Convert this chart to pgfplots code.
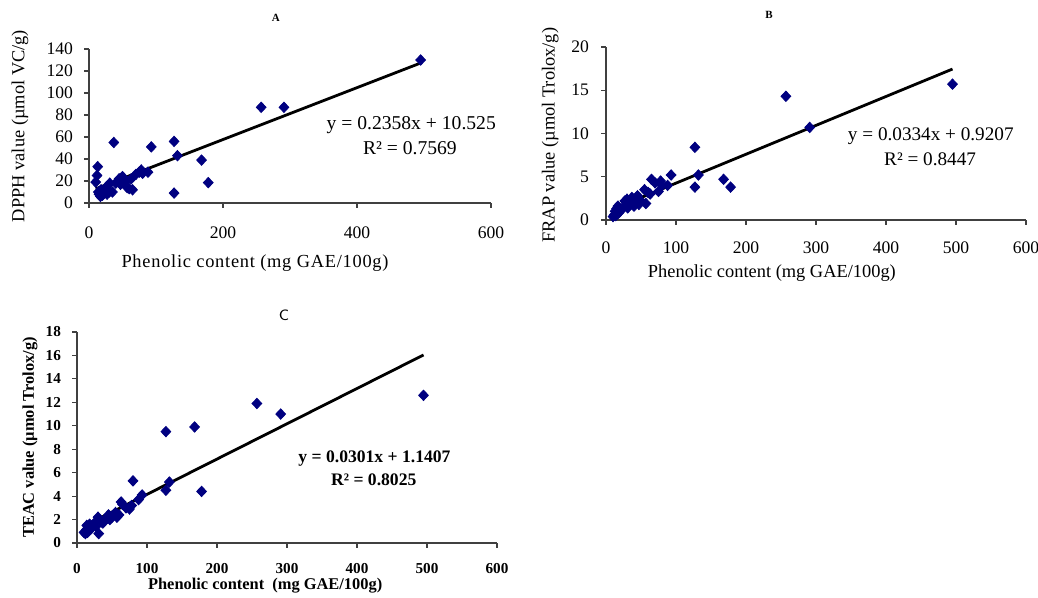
\documentclass[border=0pt]{standalone}
\usepackage{fontspec}
\setmainfont{Liberation Serif}
\usepackage{pgfplots}
\pgfplotsset{compat=1.18}
\definecolor{navy}{RGB}{0,0,128}

\pgfplotsset{
  panel/.style={
    scale only axis,
    anchor=south west,
    axis lines=left,
    axis line style={-,draw=black!75,line width=0.6pt},
    tick style={draw=black!75,line width=0.6pt},
    major tick length=2.5pt,
    tick align=outside,
    xmin=0, xmax=600,
    clip=false,
    /pgf/number format/assume math mode=true,
    scaled ticks=false,
    ylabel style={rotate=0,anchor=center},
    xlabel style={anchor=center},
  },
  pts/.style={only marks, mark=diamond*, mark size=2.6pt, color=navy, mark options={fill=navy,draw=navy,xscale=1.25}},
  fit/.style={no marks, black, line width=1.4pt},
}

\begin{document}
\begin{tikzpicture}
\useasboundingbox (0,0) rectangle (519pt,299pt);

% ---------------- A ----------------
\begin{axis}[panel,
  at={(44.5pt,197.5pt)}, width=201pt, height=77pt,
  ymin=0, ymax=140, ytick={0,20,...,140}, xtick={0,200,400,600},
  ticklabel style={font=\fontsize{8.8}{10}\selectfont},
  xticklabel style={yshift=-6pt},
  yticklabel style={xshift=-2pt},
  xlabel={\addfontfeature{LetterSpace=4}Phenolic content (mg GAE/100g)},
  ylabel={DPPH value (µmol VC/g)},
  label style={font=\fontsize{9.2}{10}\selectfont},
  x label style={at={(axis description cs:0.413,-0.39)}},
  y label style={at={(axis description cs:-0.172,0.5)}},
]
\addplot+[pts] coordinates {
(10,19) (12,25) (13,33) (14,10) (15,8) (17,6) (18,12) (20,7) (22,9) (25,14)
(27,8) (30,10) (31,18) (35,10) (37,55) (40,18) (43,20) (45,22) (47,17) (50,24)
(55,20) (57,14) (60,13) (63,22) (65,12) (70,26) (75,28) (78,30) (80,27) (88,28)
(93,51) (127,56) (127,9) (132,43) (168,39) (178,18.5) (257,87) (291,87) (495,130)
};
\addplot[fit] coordinates {(10,12.88) (495,127.25)};
\node[font=\fontsize{9.8}{11}\selectfont] at (axis cs:481,71) {y = 0.2358x + 10.525};
\node[font=\fontsize{9.8}{11}\selectfont] at (axis cs:479,50) {R² = 0.7569};
\node[font=\bfseries\fontsize{5.5}{6}\selectfont] at (rel axis cs:0.465,1.2) {A};
\end{axis}

% ---------------- B ----------------
\begin{axis}[panel,
  at={(303pt,189pt)}, width=210pt, height=86.5pt,
  ymin=0, ymax=20, ytick={0,5,...,20}, xtick={0,100,...,600},
  ticklabel style={font=\fontsize{8.8}{10}\selectfont},
  xticklabel style={yshift=-5pt},
  yticklabel style={xshift=-2.5pt},
  xlabel={Phenolic content (mg GAE/100g)},
  ylabel={FRAP value (µmol Trolox/g)},
  label style={font=\fontsize{9.2}{10}\selectfont},
  x label style={at={(axis description cs:0.395,-0.306)}},
  y label style={at={(axis description cs:-0.133,0.49)}},
]
\addplot+[pts] coordinates {
(10,0.4) (12,0.6) (13,1.0) (14,0.5) (15,1.3) (17,1.6) (18,0.8) (20,1.0) (22,1.2) (25,1.5)
(27,2.2) (30,2.4) (31,1.4) (35,2.0) (37,2.6) (40,1.6) (43,2.1) (45,2.8) (47,1.8) (50,2.2)
(55,3.5) (57,1.9) (60,3.2) (63,3.0) (65,4.7) (70,4.3) (75,3.3) (78,4.5) (80,4.0) (88,4.0)
(93,5.2) (127,8.4) (127,3.8) (132,5.2) (168,4.7) (178,3.8) (257,14.3) (291,10.7) (495,15.7)
};
\addplot[fit] coordinates {(10,1.255) (495,17.45)};
\node[font=\fontsize{9.6}{11}\selectfont] at (axis cs:464,9.7) {y = 0.0334x + 0.9207};
\node[font=\fontsize{9.6}{11}\selectfont] at (axis cs:463,7.05) {R² = 0.8447};
\node[font=\bfseries\fontsize{5.5}{6}\selectfont] at (rel axis cs:0.388,1.185) {B};
\end{axis}

% ---------------- C ----------------
\begin{axis}[panel,
  at={(38.5pt,27.5pt)}, width=210pt, height=105.5pt,
  ymin=0, ymax=18, ytick={0,2,...,18}, xtick={0,100,...,600},
  ticklabel style={font=\bfseries\fontsize{7.6}{9}\selectfont},
  xticklabel style={yshift=-4pt},
  yticklabel style={xshift=-2pt},
  xlabel={\textbf{Phenolic content\ \ (mg GAE/100g)}},
  ylabel={\textbf{TEAC value (µmol Trolox/g)}},
  label style={font=\fontsize{8.2}{9}\selectfont},
  x label style={at={(axis description cs:0.448,-0.204)}},
  y label style={at={(axis description cs:-0.112,0.5)}},
]
\addplot+[pts] coordinates {
(10,0.9) (12,0.8) (13,1.1) (14,1.5) (15,0.9) (17,1.3) (18,1.6) (20,1.2) (22,1.5) (25,1.7)
(27,1.4) (30,2.2) (31,0.8) (35,1.8) (37,1.7) (40,2.0) (43,2.1) (45,2.4) (47,2.0) (50,2.2)
(55,2.6) (57,2.2) (60,2.4) (63,3.5) (65,3.3) (70,3.0) (75,2.9) (78,3.2) (80,5.3) (88,3.7)
(93,4.1) (127,9.5) (127,4.5) (132,5.2) (168,9.9) (178,4.4) (257,11.9) (291,11.0) (495,12.6)
};
\addplot[fit] coordinates {(15,1.59) (495,16.04)};
\node[font=\bfseries\fontsize{8.8}{10}\selectfont] at (axis cs:425,7.17) {y = 0.0301x + 1.1407};
\node[font=\bfseries\fontsize{8.8}{10}\selectfont] at (axis cs:424,5.4) {R² = 0.8025};
\node[font=\sffamily\fontsize{7.5}{8}\selectfont] at (rel axis cs:0.493,1.08) {C};
\end{axis}
\end{tikzpicture}
\end{document}
